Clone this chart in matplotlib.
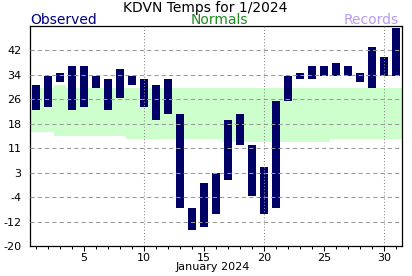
import numpy as np
import matplotlib
matplotlib.use('Agg')
import matplotlib.pyplot as plt

# observed daily high / low temperatures, January 2024
days = np.arange(1, 32)
obs_high = [31, 34, 35, 37, 37, 34, 33, 36, 34, 33, 31, 33, 22, -8, 0, 3,
            20, 22, 12, 5, 26, 34, 35, 37, 37, 38, 37, 35, 43, 40, 49]
obs_low = [23, 24, 32, 23, 24, 30, 23, 27, 31, 24, 20, 22, -8, -15, -14, -10,
           1, 12, -4, -10, -8, 26, 33, 33, 34, 34, 34, 32, 30, 34, 34]

# daily normals
norm_high = [30, 30, 31] + [30] * 28
norm_low = [16, 16] + [15] * 6 + [14] * 8 + [13] * 9 + [14] * 6

# y axis ticks (labels are truncated in the original)
ytick_vals = np.linspace(-20, 42, 9)
ytick_labels = ['-20', '-12', '-4', '3', '11', '18', '26', '34', '42']

obs_high = np.array(obs_high)
obs_low = np.array(obs_low)
norm_high = np.array(norm_high)
norm_low = np.array(norm_low)

# set up figure
fig = plt.figure(figsize=(4.12, 2.76), dpi=100)
ax = fig.add_axes([30 / 412, 30 / 276, 372 / 412, 220 / 276])

# normals band
ax.bar(days, norm_high - norm_low, bottom=norm_low, width=1.0,
       color='#ccffcc', linewidth=0, zorder=1)

# observed bars
ax.bar(days, obs_high - obs_low, bottom=obs_low, width=0.67,
       color='#000066', linewidth=0, zorder=2)

# grid on top of bars
ax.set_axisbelow(False)
ax.yaxis.grid(True, linestyle=(0, (4, 3)), color='#999999', linewidth=0.75)
for d in range(10, 31, 10):
    ax.axvline(d, color='#888888', linestyle=(0, (1, 2)), linewidth=0.75, zorder=3)

ax.set_xlim(0.5, 31.5)
ax.set_ylim(-20, 49.75)
ax.set_yticks(ytick_vals)
ax.set_yticklabels(ytick_labels)
ax.set_xticks([5, 10, 15, 20, 25, 30])
ax.set_xticks(days, minor=True)

ax.tick_params(axis='y', length=0, pad=6, labelsize=8)
ax.tick_params(axis='x', which='major', length=3.6, width=0.75, pad=1.5, labelsize=8)
ax.tick_params(axis='x', which='minor', length=2, width=0.75)
for s in ax.spines.values():
    s.set_linewidth(0.9)

ax.set_xlabel('January 2024', fontsize=8)
ax.xaxis.set_label_coords(0.492, -0.075)

# title and legend-like labels
fig.text(205 / 412, 1 - 11.7 / 276, 'KDVN Temps for 1/2024', ha='center',
         va='baseline', fontsize=10)
fig.text(30.5 / 412, 1 - 24 / 276, 'Observed', ha='left', va='baseline',
         fontsize=10, color='#000080')
fig.text(219 / 412, 1 - 24 / 276, 'Normals', ha='center', va='baseline',
         fontsize=10, color='#1f8a1f')
fig.text(398.5 / 412, 1 - 24 / 276, 'Records', ha='right', va='baseline',
         fontsize=10, color='#b49cf0')

fig.savefig('out.png', dpi=100)
